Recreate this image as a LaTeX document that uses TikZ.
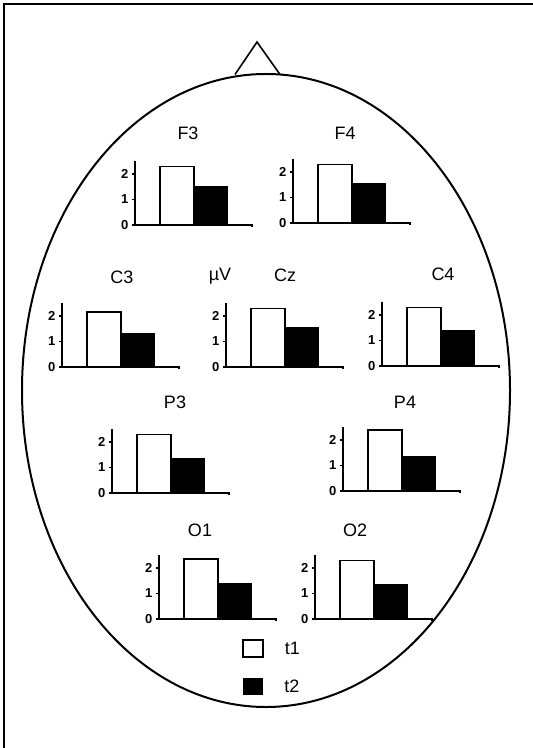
\documentclass[tikz,border=0pt]{standalone}
\usepackage{fontspec}
\setmainfont{Liberation Sans}
\usetikzlibrary{positioning}

\tikzset{
	bar/.style = {draw, line width = 0.8pt},
	lbl/.style = {font = \fontsize{9}{10}\selectfont},
	ticklbl/.style = {font = \fontsize{6.5}{7}\selectfont\bfseries, left, inner sep = 1.5pt}
}

% one small bar chart: name, x, y of origin, value t1, value t2
\newcommand{\eegplot}[5]{%
	\begin{scope}[shift = {(#2, #3)}]
		\draw [line width = 0.7pt] (0, -64) -- (0, 0) -- (117, 0) -- (117, 2);
		\foreach \v in {0, 1, 2}
			\draw [line width = 0.6pt] (0, {-25.5 * \v}) -- (-3, {-25.5 * \v}) node (#1-\v) [ticklbl] {\v};
		\draw [bar, fill = white] (25, 0) rectangle (59, {-25.5 * #4});
		\draw [bar, fill = black] (59, 0) rectangle (92, {-25.5 * #5});
	\end{scope}
}

\begin{document}
\begin{tikzpicture}[x = 0.5pt, y = -0.5pt]

	\useasboundingbox (0, 0) rectangle (533, 748);

	% Frame

	\draw [line width = 1pt] (4, 748) -- (4, 4) -- (533, 4);

	% Head + nose

	\draw [line width = 1pt] (266, 390.5) ellipse [x radius = 122pt, y radius = 158.25pt];
	\draw [line width = 0.8pt] (235, 74.5) -- (257, 42) -- (280, 74.5);

	% Electrode labels

	\node (F3) [lbl] at (188, 133) {F3};
	\node (F4) [lbl] at (345, 133) {F4};
	\node (C3) [lbl] at (122, 277) {C3};
	\node (uV) [lbl] at (220, 276) {µV};
	\node (Cz) [lbl] at (285, 275) {Cz};
	\node (C4) [lbl] at (443, 274) {C4};
	\node (P3) [lbl] at (175, 402) {P3};
	\node (P4) [lbl] at (405, 402) {P4};
	\node (O1) [lbl] at (200, 530) {O1};
	\node (O2) [lbl] at (355, 530) {O2};

	% Charts

	\eegplot{f3}{135}{225}{2.3}{1.5}
	\eegplot{f4}{293}{223}{2.3}{1.55}
	\eegplot{c3}{62}{367}{2.15}{1.3}
	\eegplot{cz}{226}{367}{2.3}{1.55}
	\eegplot{c4}{382}{366}{2.3}{1.4}
	\eegplot{p3}{112}{493}{2.3}{1.35}
	\eegplot{p4}{343}{491}{2.4}{1.35}
	\eegplot{o1}{159}{619}{2.35}{1.37}
	\eegplot{o2}{315}{619}{2.3}{1.33}

	% Legend

	\node (key1) [bar, fill = white, minimum width = 10pt, minimum height = 8.5pt, inner sep = 0pt] at (253, 648.5) {};
	\node (key2) [fill = black, minimum width = 10pt, minimum height = 8.5pt, inner sep = 0pt] at (253, 686.5) {};
	\node (t1) [lbl, right = 7pt of key1] {t1};
	\node (t2) [lbl, right = 7pt of key2] {t2};

\end{tikzpicture}
\end{document}
